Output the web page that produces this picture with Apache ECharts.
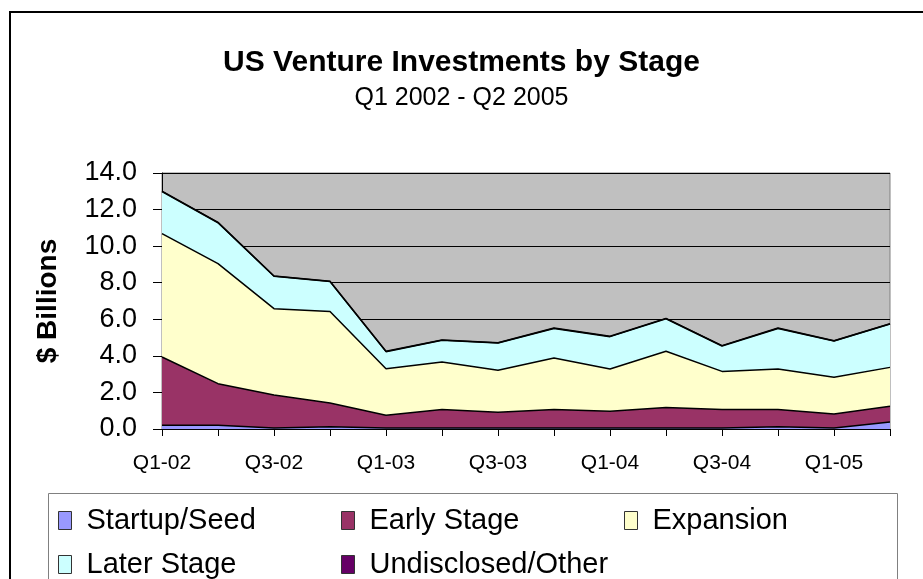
<!DOCTYPE html>
<html>
<head>
<meta charset="utf-8">
<script src="https://cdn.jsdelivr.net/npm/echarts@6/dist/echarts.min.js"></script>
<style>
  html, body { margin: 0; padding: 0; background: #fff; }
  #chart { width: 923px; height: 579px; }
</style>
</head>
<body>
<div id="chart"></div>
<script>
// quarters and values ($ billions)
var quarters = ['Q1-02','Q2-02','Q3-02','Q4-02','Q1-03','Q2-03','Q3-03','Q4-03','Q1-04','Q2-04','Q3-04','Q4-04','Q1-05','Q2-05'];
var startupSeed = [0.20, 0.20, 0.05, 0.12, 0.05, 0.05, 0.05, 0.05, 0.05, 0.05, 0.05, 0.12, 0.05, 0.38];
var earlyStage  = [3.74, 2.28, 1.81, 1.30, 0.70, 1.01, 0.86, 1.01, 0.92, 1.13, 1.01, 0.94, 0.77, 0.86];
var expansion   = [6.74, 6.56, 4.72, 5.01, 2.55, 2.60, 2.30, 2.82, 2.31, 3.07, 2.09, 2.22, 2.01, 2.13];
var laterStage  = [2.30, 2.24, 1.77, 1.63, 0.93, 1.19, 1.49, 1.62, 1.77, 1.78, 1.39, 2.22, 1.98, 2.37];
var undisclosed = [0.03, 0.02, 0.02, 0.02, 0.02, 0.02, 0.02, 0.02, 0.02, 0.02, 0.02, 0.02, 0.02, 0.02];
var yTicks = [0, 2, 4, 6, 8, 10, 12, 14];

var font = "'Liberation Sans', Arial, sans-serif";
var chart = echarts.init(document.getElementById('chart'));

function layer(name, data, color) {
  return {
    name: name,
    type: 'line',
    stack: 'total',
    data: data,
    symbol: 'none',
    lineStyle: { color: '#000', width: 1.5 },
    areaStyle: { color: color, opacity: 1 },
    itemStyle: { color: color, borderColor: '#333', borderWidth: 1 }
  };
}

// one legend entry per slot, laid out as in the original (3 columns, 2 rows)
function legendItem(left, top, name) {
  return {
    left: left,
    top: top,
    icon: 'rect',
    itemWidth: 13,
    itemHeight: 18,
    selectedMode: false,
    data: [name],
    itemStyle: { borderColor: '#333', borderWidth: 1 },
    textStyle: { fontFamily: font, fontSize: 29, color: '#000', padding: [0, 0, 0, 10] }
  };
}

var option = {
  animation: false,
  backgroundColor: '#fff',
  title: [
    { text: 'US Venture Investments by Stage', left: 'center', top: 43,
      textStyle: { fontFamily: font, fontSize: 30, fontWeight: 'bold', color: '#000' } },
    { text: 'Q1 2002 - Q2 2005', left: 'center', top: 81,
      textStyle: { fontFamily: font, fontSize: 25, fontWeight: 'normal', color: '#000' } }
  ],
  graphic: [
    { type: 'rect', shape: { x: 10, y: 12, width: 930, height: 590 },
      style: { fill: 'none', stroke: '#000', lineWidth: 2 }, z: -1 },
    { type: 'rect', shape: { x: 48.5, y: 493.5, width: 849, height: 100 },
      style: { fill: '#fff', stroke: '#808080', lineWidth: 1 }, z: -1 }
  ],
  legend: [
    legendItem(53, 501, 'Startup/Seed'),
    legendItem(336, 501, 'Early Stage'),
    legendItem(619, 501, 'Expansion'),
    legendItem(53, 545, 'Later Stage'),
    legendItem(336, 545, 'Undisclosed/Other')
  ],
  grid: {
    left: 162, right: 33, top: 173, bottom: 150,
    show: true, backgroundColor: '#c0c0c0', borderColor: '#808080', borderWidth: 1
  },
  xAxis: {
    type: 'category',
    data: quarters,
    boundaryGap: false,
    axisLine: { lineStyle: { color: '#000', width: 1 } },
    axisTick: { show: true, interval: 0, length: 7, lineStyle: { color: '#000' } },
    axisLabel: { interval: 1, margin: 24, fontFamily: font, fontSize: 21, color: '#000' },
    splitLine: { show: false }
  },
  yAxis: {
    type: 'value',
    min: yTicks[0],
    max: yTicks[yTicks.length - 1],
    interval: 2,
    name: '$ Billions',
    nameLocation: 'middle',
    nameGap: 100,
    nameRotate: 90,
    nameTextStyle: { fontFamily: font, fontSize: 28, fontWeight: 'bold', color: '#000' },
    axisLine: { show: true, lineStyle: { color: '#000', width: 1 } },
    axisTick: { show: true, length: 9, lineStyle: { color: '#000' } },
    axisLabel: {
      margin: 25, fontFamily: font, fontSize: 27, color: '#000',
      formatter: function (v) { return v.toFixed(1); }
    },
    splitLine: { show: true, lineStyle: { color: '#000', width: 1 } }
  },
  series: [
    layer('Startup/Seed', startupSeed, '#9999ff'),
    layer('Early Stage', earlyStage, '#993366'),
    layer('Expansion', expansion, '#ffffcc'),
    layer('Later Stage', laterStage, '#ccffff'),
    layer('Undisclosed/Other', undisclosed, '#660066')
  ]
};

chart.setOption(option);
</script>
</body>
</html>
